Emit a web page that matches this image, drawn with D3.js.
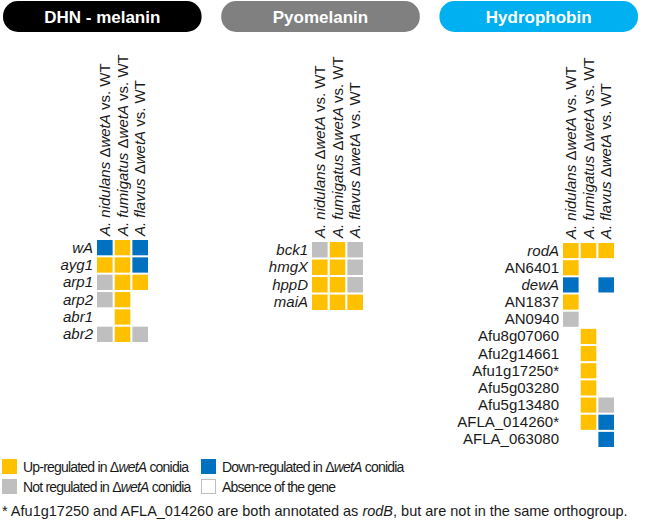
<!DOCTYPE html>
<html lang="en">
<head>
    <meta charset="UTF-8">
    <title>wetA regulated pigment and hydrophobin genes</title>
    <script src="https://d3js.org/d3.v7.js"></script>
    <style>
        body {
            margin: 0;
            padding: 0;
            background: #fff;
        }
        svg text {
            font-family: "Liberation Sans", Arial, sans-serif;
        }
        .pill-label {
            font-weight: bold;
            font-size: 17px;
            fill: #fff;
            text-anchor: middle;
        }
        .col-label {
            font-size: 15px;
            fill: #1a1a1a;
        }
        .gene-label {
            font-size: 15px;
            fill: #1a1a1a;
            text-anchor: end;
        }
        .legend-text {
            font-size: 14px;
            letter-spacing: -0.8px;
            fill: #1a1a1a;
        }
        .note {
            font-size: 14.5px;
            fill: #1a1a1a;
        }
    </style>
</head>
<body>
    <svg id="chart"></svg>

    <script>
        // Configuration
        const width = 650;
        const height = 525;
        const cellPitch = 17;
        const colors = { U: "#FFC000", D: "#0070C0", N: "#BFBFBF" };

        // Species compared (one column each)
        const species = ["nidulans", "fumigatus", "flavus"];

        // Pathway groups
        const groupNames = ["DHN - melanin", "Pyomelanin", "Hydrophobin"];
        const groupFills = ["#000000", "#808080", "#00B0F0"];

        // DHN - melanin genes
        const dhnGenes = ["wA", "ayg1", "arp1", "arp2", "abr1", "abr2"];
        const dhnItalic = [true, true, true, true, true, true];
        const dhnValues = [
            ["D", "U", "D"],
            ["U", "U", "D"],
            ["N", "U", "U"],
            ["N", "U", null],
            [null, "U", null],
            ["N", "U", "N"]
        ];

        // Pyomelanin genes
        const pyoGenes = ["bck1", "hmgX", "hppD", "maiA"];
        const pyoItalic = [true, true, true, true];
        const pyoValues = [
            ["N", "U", "N"],
            ["U", "U", "N"],
            ["U", "U", "N"],
            ["U", "U", "U"]
        ];

        // Hydrophobin genes
        const hydGenes = ["rodA", "AN6401", "dewA", "AN1837", "AN0940", "Afu8g07060",
            "Afu2g14661", "Afu1g17250*", "Afu5g03280", "Afu5g13480", "AFLA_014260*", "AFLA_063080"];
        const hydItalic = [true, false, true, false, false, false, false, false, false, false, false, false];
        const hydValues = [
            ["U", "U", "U"],
            ["U", null, null],
            ["D", null, "D"],
            ["U", null, null],
            ["N", null, null],
            [null, "U", null],
            [null, "U", null],
            [null, "U", null],
            [null, "U", null],
            [null, "U", "N"],
            [null, "U", "D"],
            [null, null, "D"]
        ];

        // Legend entries
        const legendKeys = ["U", "D", "N", "A"];
        const legendPre = ["Up-regulated in ", "Down-regulated in ", "Not regulated in ", "Absence of the gene"];
        const legendPost = [" conidia", " conidia", " conidia", ""];

        const svg = d3.select("#chart")
            .attr("width", width)
            .attr("height", height);

        // Header pills
        const pillX = d3.scaleBand()
            .domain(groupNames)
            .range([3, 638])
            .paddingInner(0.09);

        const pills = svg.selectAll("g.pill")
            .data(groupNames)
            .enter()
            .append("g")
            .attr("class", "pill")
            .attr("transform", d => `translate(${pillX(d)}, 1)`);

        pills.append("rect")
            .attr("width", pillX.bandwidth())
            .attr("height", 31)
            .attr("rx", 15)
            .attr("fill", (d, i) => groupFills[i]);

        pills.append("text")
            .attr("class", "pill-label")
            .attr("x", pillX.bandwidth() / 2)
            .attr("y", 22)
            .text(d => d);

        // Draw one heat-grid block
        function drawBlock(genes, italic, values, left, top) {
            const x = d3.scaleBand()
                .domain(species)
                .range([left, left + species.length * cellPitch])
                .paddingInner(2 / cellPitch);

            const y = d3.scaleBand()
                .domain(genes)
                .range([top, top + genes.length * cellPitch])
                .paddingInner(2 / cellPitch);

            const g = svg.append("g");

            // Column headers (rotated)
            const col = g.selectAll("text.col-label")
                .data(species)
                .enter()
                .append("text")
                .attr("class", "col-label")
                .attr("transform", d => `translate(${x(d) + x.bandwidth() / 2 + 5}, ${top - 4}) rotate(-90)`);
            col.append("tspan").attr("font-style", "italic").text(d => `A. ${d} `);
            col.append("tspan").text("\u0394");
            col.append("tspan").attr("font-style", "italic").text("wetA");
            col.append("tspan").text(" vs. WT");

            // Row labels
            g.selectAll("text.gene-label")
                .data(genes)
                .enter()
                .append("text")
                .attr("class", "gene-label")
                .attr("x", left - 4)
                .attr("y", d => y(d) + y.bandwidth() / 2 + 5)
                .attr("font-style", (d, i) => italic[i] ? "italic" : "normal")
                .text(d => d);

            // Cells
            const cells = [];
            genes.forEach((gene, r) => {
                species.forEach((sp, c) => {
                    if (values[r][c]) cells.push({ gene, sp, v: values[r][c] });
                });
            });

            g.selectAll("rect.cell")
                .data(cells)
                .enter()
                .append("rect")
                .attr("class", "cell")
                .attr("x", d => x(d.sp))
                .attr("y", d => y(d.gene))
                .attr("width", x.bandwidth())
                .attr("height", y.bandwidth())
                .attr("fill", d => colors[d.v]);
        }

        drawBlock(dhnGenes, dhnItalic, dhnValues, 97, 240);
        drawBlock(pyoGenes, pyoItalic, pyoValues, 312, 242);
        drawBlock(hydGenes, hydItalic, hydValues, 563, 243);

        // Legend
        const legX = d3.scalePoint().domain([0, 1]).range([2, 201]);
        const legY = d3.scalePoint().domain([0, 1]).range([459, 479]);

        const leg = svg.selectAll("g.legend")
            .data(legendKeys)
            .enter()
            .append("g")
            .attr("class", "legend")
            .attr("transform", (d, i) => `translate(${legX(i % 2)}, ${legY(Math.floor(i / 2))})`);

        leg.append("rect")
            .attr("x", d => d === "A" ? 0.5 : 0)
            .attr("y", d => d === "A" ? 0.5 : 0)
            .attr("width", d => d === "A" ? 14 : 15)
            .attr("height", d => d === "A" ? 14 : 15)
            .attr("fill", d => d === "A" ? "#fff" : colors[d])
            .attr("stroke", d => d === "A" ? "#BFBFBF" : "none");

        const legText = leg.append("text")
            .attr("class", "legend-text")
            .attr("x", 21)
            .attr("y", 13);
        legText.append("tspan").text((d, i) => legendPre[i]);
        legText.filter(d => d !== "A").append("tspan").text("\u0394");
        legText.filter(d => d !== "A").append("tspan").attr("font-style", "italic").text("wetA");
        legText.append("tspan").text((d, i) => legendPost[i]);

        // Footnote
        const note = svg.append("text")
            .attr("class", "note")
            .attr("x", 2)
            .attr("y", 516);
        note.append("tspan").text("* Afu1g17250 and AFLA_014260 are both annotated as ");
        note.append("tspan").attr("font-style", "italic").text("rodB");
        note.append("tspan").text(", but are not in the same orthogroup.");
    </script>
</body>
</html>
